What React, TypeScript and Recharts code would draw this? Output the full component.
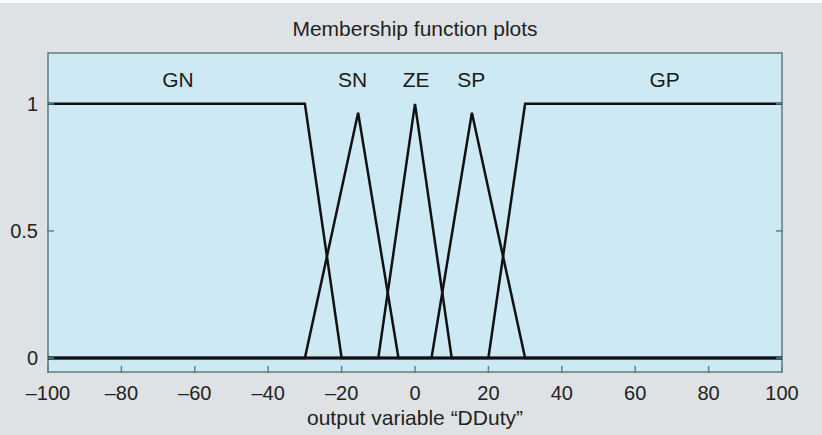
import { ComposedChart, Line, Scatter, XAxis, YAxis, CartesianGrid, ReferenceArea } from "recharts";

// membership functions, as drawn (each one spans the full universe)
const gn = [
  { x: -100, y: 1 },
  { x: -30, y: 1 },
  { x: -20, y: 0 },
  { x: 100, y: 0 },
];
const sn = [
  { x: -100, y: 0 },
  { x: -30, y: 0 },
  { x: -15.5, y: 0.965 },
  { x: -4.5, y: 0 },
  { x: 100, y: 0 },
];
const ze = [
  { x: -100, y: 0 },
  { x: -10, y: 0 },
  { x: 0, y: 1 },
  { x: 10, y: 0 },
  { x: 100, y: 0 },
];
const sp = [
  { x: -100, y: 0 },
  { x: 4.5, y: 0 },
  { x: 15.5, y: 0.965 },
  { x: 30, y: 0 },
  { x: 100, y: 0 },
];
const gp = [
  { x: -100, y: 0 },
  { x: 20, y: 0 },
  { x: 30, y: 1 },
  { x: 100, y: 1 },
];

const mfLabels = [
  { name: "GN", x: -64.6, y: 1.093 },
  { name: "SN", x: -17, y: 1.093 },
  { name: "ZE", x: 0.3, y: 1.093 },
  { name: "SP", x: 15.3, y: 1.093 },
  { name: "GP", x: 68, y: 1.093 },
];

const xTicks = [-100, -80, -60, -40, -20, 0, 20, 40, 60, 80, 100];
const yTicks = [0, 0.5, 1];
const xDomain = [-100, 100];
const yDomain = [-0.055, 1.2];

const FONT = "'Liberation Sans', Arial, sans-serif";
const TICK = "#4d8796";
const series = [gn, sn, ze, sp, gp];

// axes get 1px of room (recharts skips axes of size 0), ticks point inward
const BottomTick = (p: any) => (
  <g>
    <line x1={p.x} y1={p.y - 1} x2={p.x} y2={p.y - 8} stroke={TICK} strokeWidth={1.5} />
    <text x={p.x} y={p.y + 26} textAnchor="middle" fontSize={20} fontFamily={FONT} fill="#222">
      {p.payload.value < 0 ? "\u2013" + Math.abs(p.payload.value) : p.payload.value}
    </text>
  </g>
);

const TopTick = (p: any) => (
  <line x1={p.x} y1={p.y + 1} x2={p.x} y2={p.y + 8} stroke={TICK} strokeWidth={1.5} />
);

const LeftTick = (p: any) => (
  <g>
    <line x1={p.x + 1} y1={p.y} x2={p.x + 8} y2={p.y} stroke={TICK} strokeWidth={1.5} />
    <text x={p.x - 8} y={p.y + 7} textAnchor="end" fontSize={20} fontFamily={FONT} fill="#222">
      {p.payload.value}
    </text>
  </g>
);

const RightTick = (p: any) => (
  <line x1={p.x - 1} y1={p.y} x2={p.x - 8} y2={p.y} stroke={TICK} strokeWidth={1.5} />
);

const NameLabel = (p: any) => (
  <text x={p.cx} y={p.cy + 7} textAnchor="middle" fontSize={21} fontFamily={FONT} fill="#1a1a1a">
    {p.payload.name}
  </text>
);

export default function App() {
  return (
    <div style={{ position: "absolute", left: 0, top: 0, width: 822, height: 435, background: "#dfe2e5" }}>
      <div style={{ position: "absolute", left: 0, top: 0, width: 822, height: 3, background: "#fff" }} />
      <div
        style={{
          position: "absolute",
          top: 17,
          left: 0,
          width: 830,
          textAlign: "center",
          fontFamily: FONT,
          fontSize: 21,
          color: "#222",
        }}
      >
        Membership function plots
      </div>
      <ComposedChart
        width={822}
        height={435}
        margin={{ top: 52, right: 39, left: 47, bottom: 62 }}
        style={{ position: "absolute", left: 0, top: 0 }}
      >
        <CartesianGrid horizontal={false} vertical={false} fill="#cde9f4" />
        <XAxis
          type="number"
          dataKey="x"
          domain={xDomain}
          ticks={xTicks}
          height={1}
          tickSize={0}
          tickLine={false}
          axisLine={false}
          tick={<BottomTick />}
          interval={0}
          allowDataOverflow
        />
        <XAxis
          xAxisId="top"
          orientation="top"
          type="number"
          dataKey="x"
          domain={xDomain}
          ticks={xTicks}
          height={1}
          tickSize={0}
          tickLine={false}
          axisLine={false}
          tick={<TopTick />}
          interval={0}
        />
        <YAxis
          type="number"
          domain={yDomain}
          ticks={yTicks}
          width={1}
          tickSize={0}
          tickLine={false}
          axisLine={false}
          tick={<LeftTick />}
          interval={0}
          allowDataOverflow
        />
        <YAxis
          yAxisId="r"
          orientation="right"
          type="number"
          domain={yDomain}
          ticks={yTicks}
          width={1}
          tickSize={0}
          tickLine={false}
          axisLine={false}
          tick={<RightTick />}
          interval={0}
          allowDataOverflow
        />
        {series.map((d, i) => (
          <Line
            key={i}
            data={d}
            dataKey="y"
            type="linear"
            stroke="#111"
            strokeWidth={2.5}
            dot={false}
            activeDot={false}
            isAnimationActive={false}
          />
        ))}
        <Scatter data={mfLabels} dataKey="y" shape={<NameLabel />} isAnimationActive={false} />
        <ReferenceArea
          x1={xDomain[0]}
          x2={xDomain[1]}
          y1={yDomain[0]}
          y2={yDomain[1]}
          fill="none"
          stroke="#66787f"
          strokeWidth={1.5}
          ifOverflow="visible"
        />
      </ComposedChart>
      <div
        style={{
          position: "absolute",
          top: 406,
          left: 0,
          width: 830,
          textAlign: "center",
          fontFamily: FONT,
          fontSize: 21,
          color: "#222",
        }}
      >
        output variable {"\u201CDDuty\u201D"}
      </div>
    </div>
  );
}
